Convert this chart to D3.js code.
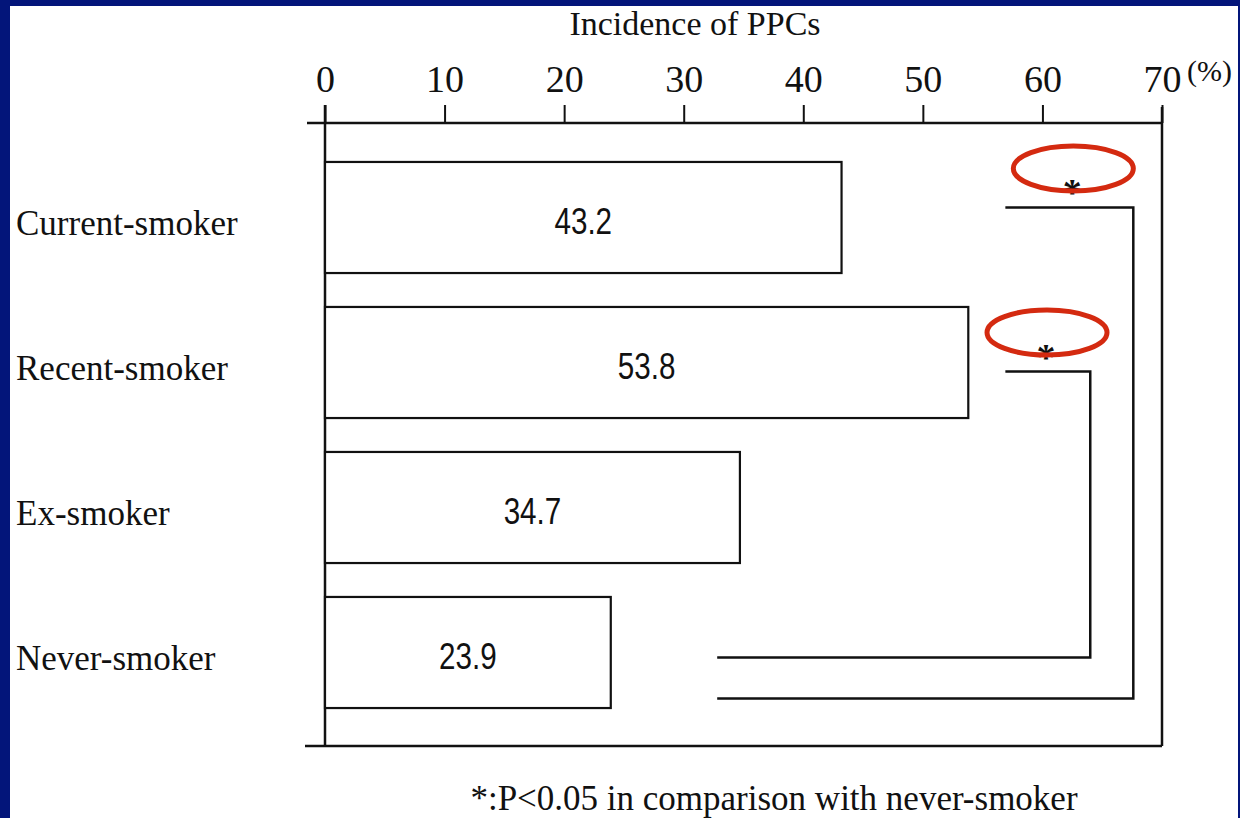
<!DOCTYPE html>
<html><head><meta charset="utf-8">
<script src="https://cdn.jsdelivr.net/npm/d3@7"></script>
<style>
html,body{margin:0;padding:0;background:#fff;}
svg{display:block;}
text{font-family:"Liberation Serif","Times New Roman",serif;fill:#111;}
</style></head>
<body>
<svg id="chart" width="1240" height="818"></svg>
<script>
const categories = ["Current-smoker", "Recent-smoker", "Ex-smoker", "Never-smoker"];
const values = [43.2, 53.8, 34.7, 23.9];
const tickValues = [0, 10, 20, 30, 40, 50, 60, 70];
const axisTitle = "Incidence of PPCs";
const unitLabel = "(%)";
const footnote = "*:P<0.05 in comparison with never-smoker";
// significance brackets: from category, to category, start x (data), vertical x (data), end x (data)
const bracketFrom = ["Current-smoker", "Recent-smoker"];
const bracketTo = ["Never-smoker", "Never-smoker"];
const bracketStartX = [56.9, 56.9];
const bracketVertX = [67.6, 64.0];
const bracketEndX = [32.8, 32.8];
const starX = [62.5, 60.3];

const svg = d3.select("#chart");
const W = 1240, H = 818;

// blue frame
svg.append("rect").attr("x",0).attr("y",0).attr("width",W).attr("height",H).attr("fill","#03157a");
svg.append("rect").attr("x",10).attr("y",6).attr("width",1238-10).attr("height",H-6).attr("fill","#fff");

const x = d3.scaleLinear().domain([0,70]).range([325,1162]);
const y = d3.scaleBand().domain(categories).range([145,725]).paddingInner(0.234).paddingOuter(0.117);
const plotTop = 123, plotBottom = 746;

const g = svg.append("g");
const stroke = "#111";

// plot frame
g.append("line").attr("x1",307).attr("x2",x(70)).attr("y1",plotTop).attr("y2",plotTop).attr("stroke",stroke).attr("stroke-width",2.5);
g.append("line").attr("x1",305).attr("x2",x(70)).attr("y1",plotBottom).attr("y2",plotBottom).attr("stroke",stroke).attr("stroke-width",2.5);
g.append("line").attr("x1",x(0)).attr("x2",x(0)).attr("y1",plotTop-18).attr("y2",plotBottom).attr("stroke",stroke).attr("stroke-width",2.5);
g.append("line").attr("x1",x(70)).attr("x2",x(70)).attr("y1",plotTop-16).attr("y2",plotBottom).attr("stroke",stroke).attr("stroke-width",2.5);

// top axis ticks & labels
const axis = d3.axisTop(x).tickValues(tickValues).tickSize(18).tickSizeOuter(0).tickFormat(d3.format("d"));
const ax = g.append("g").attr("transform",`translate(0,${plotTop})`).call(axis);
ax.select(".domain").remove();
ax.selectAll(".tick line").attr("stroke",stroke).attr("stroke-width",2);
ax.selectAll(".tick text").attr("font-size",38).attr("fill","#111").attr("y",-31).attr("dy",0)
  .style("font-family",'"Liberation Serif",serif');

svg.append("text").attr("x",x(70)+25).attr("y",81).attr("font-size",30).text(unitLabel);
svg.append("text").attr("x",695).attr("y",35).attr("text-anchor","middle").attr("font-size",34).text(axisTitle);

// bars
g.selectAll("rect.bar").data(values).join("rect").attr("class","bar")
  .attr("x",x(0)).attr("y",(d,i)=>y(categories[i]))
  .attr("width",d=>x(d)-x(0)).attr("height",y.bandwidth())
  .attr("fill","#fff").attr("stroke",stroke).attr("stroke-width",2.2);

g.selectAll("text.val").data(values).join("text").attr("class","val")
  .attr("transform",(d,i)=>`translate(${(x(0)+x(d))/2},${y(categories[i])+y.bandwidth()/2+16}) scale(0.8,1)`)
  .attr("text-anchor","middle").attr("font-size",37)
  .style("font-family",'"Liberation Sans",Arial,sans-serif')
  .text(d=>d.toFixed(1));

g.selectAll("text.cat").data(categories).join("text").attr("class","cat")
  .attr("x",16).attr("y",d=>y(d)+y.bandwidth()/2+17)
  .attr("font-size",35).text(d=>d);

// brackets
const bw = y.bandwidth();
const topOff = [-10/111, 9/111];
const botOff = [46/111, 5/111];
bracketFrom.forEach((f,i)=>{
  const yTop = y(f) + bw/2 + topOff[i]*bw;
  const yBot = y(bracketTo[i]) + bw/2 + botOff[i]*bw;
  const path = d3.path();
  path.moveTo(x(bracketStartX[i]), yTop);
  path.lineTo(x(bracketVertX[i]), yTop);
  path.lineTo(x(bracketVertX[i]), yBot);
  path.lineTo(x(bracketEndX[i]), yBot);
  g.append("path").attr("d",path.toString()).attr("fill","none").attr("stroke",stroke).attr("stroke-width",2.5);
  g.append("text").attr("x",x(starX[i])).attr("y",yTop-2).attr("text-anchor","middle")
    .attr("font-size",38).attr("font-weight","bold").text("*");
  g.append("ellipse").attr("cx",x(starX[i])+1).attr("cy",yTop-39).attr("rx",60).attr("ry",22.5)
    .attr("fill","none").attr("stroke","#d42a10").attr("stroke-width",5);
});

svg.append("text").attr("x",774).attr("y",810).attr("text-anchor","middle").attr("font-size",35).text(footnote);
</script>
</body></html>
